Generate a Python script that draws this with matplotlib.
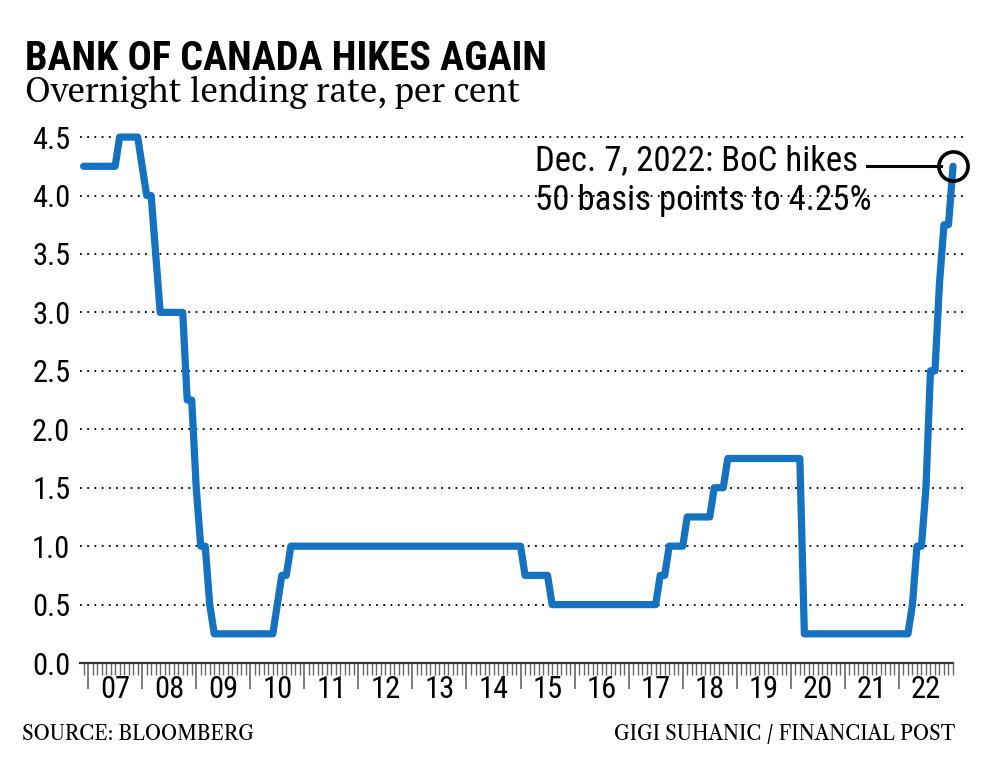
import matplotlib.pyplot as plt
import numpy as np
from matplotlib.ticker import MultipleLocator, FixedLocator
import matplotlib.transforms as mtransforms

# Overnight rate, month-start readings where the line turns
months = ["2006-12", "2007-07", "2007-08", "2007-12", "2008-01", "2008-02", "2008-03",
          "2008-04", "2008-05", "2008-10", "2008-11", "2008-12", "2009-01", "2009-02",
          "2009-03", "2009-04", "2009-05", "2010-06", "2010-07", "2010-08", "2010-09",
          "2010-10", "2015-01", "2015-02", "2015-07", "2015-08", "2017-07", "2017-08",
          "2017-09", "2017-10", "2018-01", "2018-02", "2018-07", "2018-08", "2018-10",
          "2018-11", "2020-03", "2020-04", "2022-03", "2022-04", "2022-05", "2022-06",
          "2022-07", "2022-08", "2022-09", "2022-10", "2022-11", "2022-12", "2023-01"]
rates = [4.25, 4.25, 4.5, 4.5, 4.25, 4.0, 4.0, 3.5, 3.0, 3.0,
         2.25, 2.25, 1.5, 1.0, 1.0, 0.5, 0.25, 0.25, 0.5, 0.75,
         0.75, 1.0, 1.0, 0.75, 0.75, 0.5, 0.5, 0.75, 0.75, 1.0,
         1.0, 1.25, 1.25, 1.5, 1.5, 1.75, 1.75, 0.25, 0.25, 0.5,
         1.0, 1.0, 1.5, 2.5, 2.5, 3.25, 3.75, 3.75, 4.25]
years = list(range(2007, 2023))
year_labels = ["07", "08", "09", "10", "11", "12", "13", "14", "15", "16", "17", "18",
               "19", "20", "21", "22"]
y_ticks = [0.0, 0.5, 1.0, 1.5, 2.0, 2.5, 3.0, 3.5, 4.0, 4.5]

x = np.array([int(m[:4]) + (int(m[5:]) - 1) / 12 for m in months])
y = np.array(rates)

narrow = ['Roboto Condensed', 'DejaVu Sans']
serif = ['PT Serif', 'DejaVu Serif']
credit = ['Libre Caslon Text', 'PT Serif', 'DejaVu Serif']

fig = plt.figure(figsize=(10, 7.63), dpi=100)
ax = fig.add_axes([0.08, 0.131, 0.873, 0.697])

blue = '#1572c0'
ax.plot(x, y, color=blue, lw=5.2, solid_joinstyle='round', solid_capstyle='round',
        clip_on=False, zorder=3)

ax.set_xlim(2006.85, 2023.0)
ax.set_ylim(0, 4.55)

# dotted grid
for v in y_ticks[1:]:
    ax.plot([0, 1.012], [v, v], transform=ax.get_yaxis_transform(), color='black',
            lw=1.3, ls=(0, (1, 3)), clip_on=False, zorder=1)

for s in ['top', 'right', 'left']:
    ax.spines[s].set_visible(False)
ax.spines['bottom'].set_color('#333333')
ax.spines['bottom'].set_linewidth(1.6)

ax.set_yticks(y_ticks)
ax.set_yticklabels([f"{v:.1f}" for v in y_ticks], fontsize=22, family=narrow)
ax.tick_params(axis='y', length=0, pad=7)

ax.xaxis.set_major_locator(FixedLocator(years))
ax.xaxis.set_minor_locator(MultipleLocator(1 / 12))
ax.tick_params(axis='x', which='major', length=19, width=1.2, color='#666666',
               labelbottom=False)
ax.tick_params(axis='x', which='minor', length=8.5, width=1.0, color='#666666')

trans = mtransforms.blended_transform_factory(ax.transData, ax.transAxes)
for yr, lab in zip(years, year_labels):
    ax.text(yr + 0.5, -0.05, lab, transform=trans, ha='center', va='center',
            fontsize=22, family=narrow)

# annotation
ax.plot(x[-1], y[-1], 'o', ms=21, mfc='none', mec='black', mew=2.6, clip_on=False, zorder=4)
ax.plot([2021.41, 2022.77], [4.25, 4.25], color='black', lw=2.2, clip_on=False, zorder=4)
ax.text(2015.27, 4.217, "Dec. 7, 2022: BoC hikes", ha='left', va='baseline',
        fontsize=25, family=narrow)
ax.text(2015.27, 3.875, "50 basis points to 4.25%", ha='left', va='baseline',
        fontsize=25, family=narrow)

fig.text(0.025, 0.908, "BANK OF CANADA HIKES AGAIN", fontsize=29, fontweight='bold',
         family=narrow, va='baseline')
fig.text(0.025, 0.866, "Overnight lending rate, per cent", fontsize=25, family=serif,
         va='baseline')
fig.text(0.022, 0.03, "SOURCE: BLOOMBERG", fontsize=14, family=credit, va='baseline')
fig.text(0.955, 0.03, "GIGI SUHANIC / FINANCIAL POST", fontsize=14, family=credit,
         va='baseline', ha='right')

fig.savefig('out.png', dpi=100)
